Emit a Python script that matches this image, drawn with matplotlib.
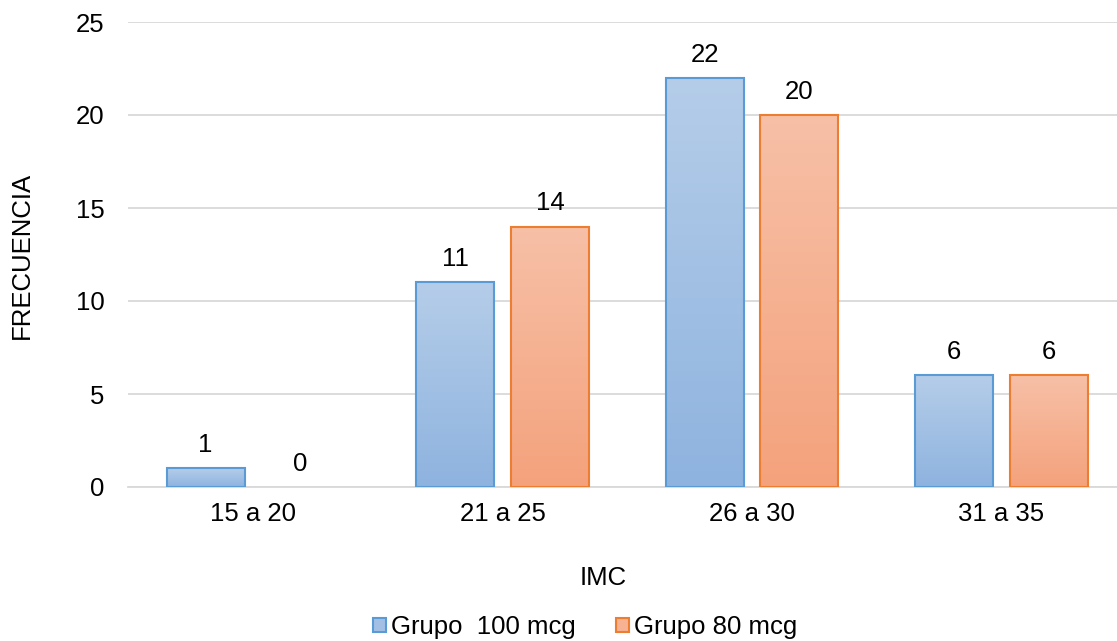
import matplotlib
matplotlib.use("Agg")
import matplotlib.pyplot as plt
import numpy as np
from matplotlib.patches import Patch
from matplotlib.colors import LinearSegmentedColormap

categories = ["15 a 20", "21 a 25", "26 a 30", "31 a 35"]
grupo_100 = [1, 11, 22, 6]
grupo_80 = [0, 14, 20, 6]
series_names = ["Grupo  100 mcg", "Grupo 80 mcg"]
yticks = [0, 5, 10, 15, 20, 25]

plt.rcParams['font.family'] = ['Liberation Sans', 'DejaVu Sans']
FS = 18.5

fig = plt.figure(figsize=(11.17, 6.41), dpi=100)
W, H = 1117, 641
ax = fig.add_axes([128.25 / W, 1 - 487 / H, 998 / W, (487 - 22) / H])

x = np.arange(len(categories))
width = 0.313
offset = 0.19

blue_cmap = LinearSegmentedColormap.from_list("b", ["#8eb3df", "#b5cde9"])
orange_cmap = LinearSegmentedColormap.from_list("o", ["#f4a27c", "#f7c0a7"])
grad = np.linspace(0, 1, 256).reshape(-1, 1)

def draw(vals, pos, cmap, edge):
    for p, v in zip(pos, vals):
        if v > 0:
            b = ax.bar(p, v, width, facecolor='none', edgecolor=edge, linewidth=1.5, zorder=3)[0]
            im = ax.imshow(grad, cmap=cmap, aspect='auto', origin='lower',
                           extent=[b.get_x(), b.get_x() + b.get_width(), 0, v], zorder=2)
            im.set_clip_path(b)
        ax.annotate(str(v), (p, v), xytext=(0, 8),
                    textcoords='offset points', ha='center', va='bottom', fontsize=FS, color='#000000')

draw(grupo_100, x - offset, blue_cmap, "#5b9bd5")
draw(grupo_80, x + offset, orange_cmap, "#ed7d31")

ax.set_xlim(-0.5, len(categories) - 0.5)
ax.set_ylim(0, 25)
ax.set_yticks(yticks)
ax.set_xticks(x)
ax.set_xticklabels(categories)
ax.tick_params(axis='both', length=0, labelsize=FS, colors='#000000')
ax.tick_params(axis='x', pad=11)
ax.tick_params(axis='y', pad=17)
ax.yaxis.grid(True, color='#d9d9d9', linewidth=1.3, zorder=0)
ax.set_axisbelow(True)
for s in ['top', 'right', 'left']:
    ax.spines[s].set_visible(False)
ax.spines['bottom'].set_color('#d9d9d9')
ax.spines['bottom'].set_linewidth(1.3)

fig.text(603 / W, 1 - 578 / H, "IMC", fontsize=FS, ha='center', va='center')
fig.text(22 / W, 1 - 255 / H, "FRECUENCIA", fontsize=FS, ha='center', va='center', rotation=90)

handles = [Patch(facecolor="#a3c0e4", edgecolor="#5b9bd5", linewidth=1.5),
           Patch(facecolor="#f6b293", edgecolor="#ed7d31", linewidth=1.5)]
fig.legend(handles, series_names, loc='center', bbox_to_anchor=(585 / W, 1 - 627 / H), ncol=2,
           frameon=False, fontsize=FS, handlelength=0.5, handleheight=0.5,
           handletextpad=0.2, columnspacing=1.55, borderpad=0, borderaxespad=0)

fig.savefig("out.png", dpi=100)
